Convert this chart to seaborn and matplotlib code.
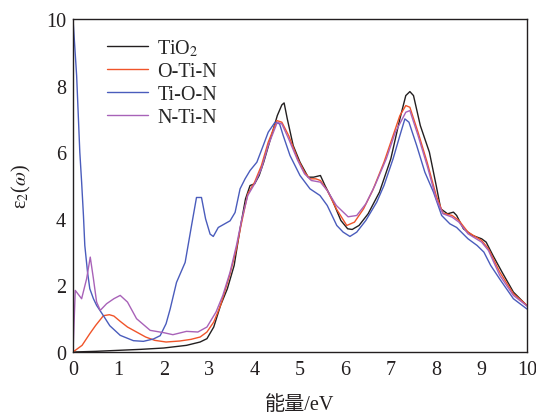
import numpy as np
import pandas as pd
import matplotlib
matplotlib.use("Agg")
import matplotlib.pyplot as plt
import seaborn as sns

# ---- data ----
tio2_x = [0, 0.5, 1.0, 1.5, 2.0, 2.5, 2.8, 2.95, 3.1, 3.25, 3.4, 3.55, 3.68, 3.8, 3.9, 4.0, 4.1,
          4.2, 4.35, 4.5, 4.6, 4.65, 4.72, 4.85, 5.0, 5.18, 5.3, 5.45, 5.55, 5.7, 5.9, 6.05, 6.15,
          6.3, 6.5, 6.75, 7.0, 7.2, 7.33, 7.42, 7.5, 7.65, 7.85, 8.0, 8.1, 8.25, 8.38, 8.45, 8.6,
          8.8, 9.0, 9.1, 9.25, 9.45, 9.7, 10.0]
tio2_y = [0, 0.02, 0.05, 0.08, 0.12, 0.2, 0.3, 0.4, 0.75, 1.4, 1.9, 2.6, 3.7, 4.6, 5.0, 5.05, 5.3,
          5.7, 6.4, 7.1, 7.42, 7.48, 7.0, 6.2, 5.7, 5.25, 5.25, 5.3, 5.0, 4.6, 3.95, 3.7, 3.68,
          3.8, 4.15, 4.8, 5.8, 7.0, 7.7, 7.82, 7.7, 6.8, 6.0, 5.0, 4.3, 4.15, 4.2, 4.1, 3.7,
          3.5, 3.4, 3.3, 2.9, 2.4, 1.8, 1.39]

otin_x = [0, 0.2, 0.37, 0.5, 0.67, 0.8, 0.9, 1.04, 1.2, 1.4, 1.6, 1.8, 2.05, 2.35, 2.6, 2.8, 2.95,
          3.1, 3.25, 3.45, 3.6, 3.7, 3.85, 4.0, 4.15, 4.3, 4.49, 4.6, 4.75, 4.95, 5.1, 5.22, 5.35,
          5.45, 5.6, 5.8, 6.03, 6.2, 6.4, 6.6, 6.85, 7.05, 7.2, 7.33, 7.42, 7.6, 7.8, 8.0, 8.15,
          8.35, 8.5, 8.7, 9.0, 9.15, 9.4, 9.7, 10.0]
otin_y = [0, 0.2, 0.55, 0.8, 1.09, 1.12, 1.08, 0.92, 0.75, 0.6, 0.45, 0.35, 0.3, 0.33, 0.38, 0.45, 0.6,
          0.9, 1.4, 2.3, 3.1, 3.8, 4.75, 5.1, 5.6, 6.3, 6.95, 6.9, 6.5, 5.8, 5.4, 5.2, 5.2,
          5.15, 4.85, 4.3, 3.8, 3.9, 4.3, 4.85, 5.7, 6.5, 7.1, 7.4, 7.35, 6.6, 5.7, 4.7, 4.17,
          4.1, 3.95, 3.6, 3.35, 3.1, 2.4, 1.75, 1.4]

tion_x = [0, 0.08, 0.15, 0.19, 0.23, 0.26, 0.32, 0.37, 0.45, 0.52, 0.67, 0.81, 1.04, 1.33, 1.55,
          1.77, 1.92, 2.05, 2.14, 2.28, 2.47, 2.61, 2.72, 2.83, 2.92, 3.02, 3.09, 3.2, 3.46, 3.57,
          3.68, 3.79, 3.9, 4.05, 4.19, 4.3, 4.45, 4.55, 4.63, 4.78, 5.0, 5.22, 5.44, 5.6, 5.81,
          5.95, 6.1, 6.25, 6.45, 6.69, 6.85, 7.05, 7.2, 7.31, 7.4, 7.57, 7.75, 7.94, 8.12, 8.3,
          8.45, 8.7, 8.9, 9.05, 9.2, 9.4, 9.7, 10.0]
tion_y = [10, 8.3, 6.0, 5.1, 4.1, 3.2, 2.4, 1.9, 1.6, 1.4, 1.09, 0.79, 0.5, 0.34, 0.32,
          0.39, 0.49, 0.85, 1.29, 2.09, 2.69, 3.79, 4.64, 4.64, 4.0, 3.54, 3.47, 3.74, 3.94, 4.19,
          4.9, 5.2, 5.45, 5.7, 6.2, 6.6, 6.9, 6.85, 6.5, 5.9, 5.3, 4.9, 4.7, 4.4, 3.8,
          3.6, 3.47, 3.6, 3.95, 4.5, 5.0, 5.8, 6.5, 7.0, 6.9, 6.2, 5.4, 4.8, 4.1, 3.85,
          3.74, 3.4, 3.2, 3.0, 2.6, 2.19, 1.6, 1.29]

ntin_x = [0, 0.05, 0.19, 0.3, 0.38, 0.45, 0.52, 0.6, 0.74, 0.9, 1.04, 1.2, 1.4, 1.7, 2.0, 2.2,
          2.5, 2.75, 2.95, 3.15, 3.3, 3.46, 3.6, 3.72, 3.85, 4.0, 4.15, 4.3, 4.5, 4.6, 4.75, 4.95,
          5.1, 5.25, 5.45, 5.6, 5.8, 6.06, 6.25, 6.45, 6.65, 6.9, 7.1, 7.33, 7.42, 7.6, 7.8, 8.0,
          8.15, 8.35, 8.5, 8.7, 9.0, 9.15, 9.4, 9.7, 10.0]
ntin_y = [0, 1.85, 1.6, 2.2, 2.85, 2.2, 1.5, 1.25, 1.45, 1.6, 1.7, 1.5, 1.0, 0.65, 0.58, 0.52,
          0.62, 0.6, 0.75, 1.2, 1.7, 2.4, 3.2, 4.0, 4.7, 5.05, 5.5, 6.2, 6.9, 6.85, 6.4, 5.75,
          5.35, 5.15, 5.1, 4.85, 4.4, 4.06, 4.1, 4.45, 5.0, 5.8, 6.6, 7.2, 7.25, 6.5, 5.6, 4.6,
          4.15, 4.05, 3.9, 3.55, 3.3, 3.05, 2.3, 1.7, 1.38]

series_names = ["TiO$_2$", "O-Ti-N", "Ti-O-N", "N-Ti-N"]
series_colors = ["#231f20", "#f0542a", "#4a5cbc", "#a862b8"]
x_ticks = [0, 1, 2, 3, 4, 5, 6, 7, 8, 9, 10]
y_ticks = [0, 2, 4, 6, 8, 10]

frames = []
for name, xs, ys in zip(series_names,
                        [tio2_x, otin_x, tion_x, ntin_x],
                        [tio2_y, otin_y, tion_y, ntin_y]):
    frames.append(pd.DataFrame({"E": xs, "eps": ys, "s": name}))
df = pd.concat(frames, ignore_index=True)

sns.set_theme(style="white")
plt.rcParams["font.family"] = ["Liberation Serif", "Noto Sans CJK SC"]
plt.rcParams["mathtext.fontset"] = "stix"
plt.rcParams["axes.edgecolor"] = "#231f20"
plt.rcParams["axes.linewidth"] = 1.0

fig = plt.figure(figsize=(5.36, 4.14), dpi=100)
ax = fig.add_axes([73 / 536, 1 - 353 / 414, 454 / 536, 333 / 414])

sns.lineplot(data=df, x="E", y="eps", hue="s", hue_order=series_names,
             palette=dict(zip(series_names, series_colors)), estimator=None,
             sort=False, linewidth=1.0, ax=ax)

ax.set_xlim(0, 10)
ax.set_ylim(0, 10)
ax.set_xticks(x_ticks)
ax.set_yticks(y_ticks)
ax.tick_params(direction="in", length=3.5, width=1.0, labelsize=14.5, color="#231f20",
               labelcolor="#231f20", top=False, right=False)
ax.tick_params(axis="x", pad=6)
ax.tick_params(axis="y", pad=5)
for sp in ax.spines.values():
    sp.set_visible(True)
    sp.set_color("#231f20")

ax.set_xlabel("能量/eV", fontsize=14.5, labelpad=11, color="#231f20")
ax.set_ylabel("ε$_2$($\\omega$)", fontsize=14.5, labelpad=9, color="#231f20")

leg = ax.legend(loc="upper left", bbox_to_anchor=(0.075, 0.945), frameon=False,
                fontsize=14.5, handlelength=2.05, handletextpad=0.45, labelspacing=0.2,
                borderpad=0, borderaxespad=0)
for line in leg.get_lines():
    line.set_linewidth(1.0)

fig.savefig("out.png", dpi=100)
